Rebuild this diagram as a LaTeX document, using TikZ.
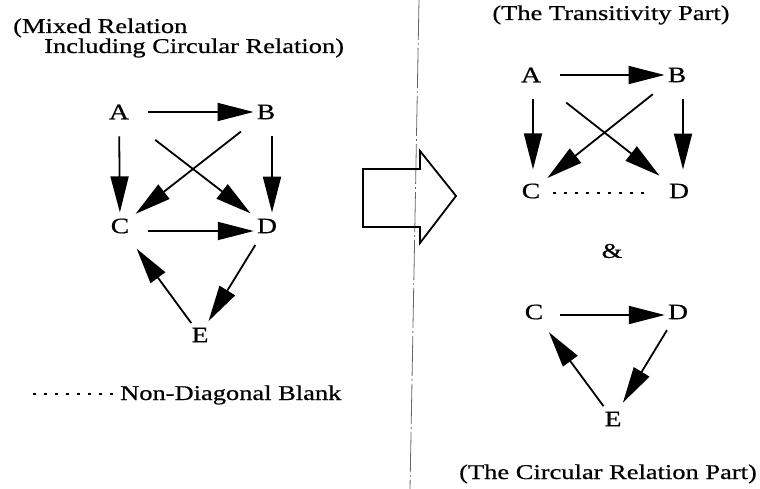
\documentclass[tikz,border=0pt]{standalone}
\usepackage{fontspec}
\setmainfont{Liberation Serif}[FakeStretch=1.26, FakeBold=0.6]
\usetikzlibrary{arrows.meta,positioning}

\begin{document}
\begin{tikzpicture}[
            x=1pt, y=-1pt,
            font=\fontsize{21}{23}\selectfont,
            letter/.style={inner sep=3pt, font=\fontsize{22}{24}\selectfont},
            label/.style={inner sep=0pt},
            rel/.style={
                    -{Triangle[length=36pt,width=18pt]},
                    line width=1.8pt,
                    shorten <=14pt
                },
            blank/.style={line width=2pt, dash pattern=on 3pt off 8pt},
        ]
        \useasboundingbox (0,0) rectangle (760,489);

        % Titles
        \node[label, anchor=base west] (mixA) at (13,33) {(Mixed Relation};
        \node[label, anchor=base west] (mixB) at (44,53) {Including Circular Relation)};
        \node[label, anchor=base] (trans) at (611,20) {(The Transitivity Part)};
        \node[label, anchor=base] (circ) at (608,479) {(The Circular Relation Part)};

        % Mixed relation
        \node[letter] (lA) at (119,112) {A};
        \node[letter] (lB) at (266,112) {B};
        \node[letter] (lC) at (120,226) {C};
        \node[letter] (lD) at (267,226) {D};
        \node[letter] (lE) at (200,335) {E};

        \draw[rel, shorten <=16pt] (lA) -- (lB);
        \draw[rel, shorten >=3pt] (lA) -- (lC);
        \draw[rel, shorten >=3pt] (lB.south -| 272,0) -- (lD.north -| 272,0);
        \draw[rel, shorten <=29pt, shorten >=4pt] (lA) -- (lD);
        \draw[rel, shorten <=16pt, shorten >=4pt] (lB) -- (lC);
        \draw[rel, shorten <=16pt] ([yshift=-5pt]lC.east) -- ([yshift=-5pt]lD.west);
        \draw[rel, shorten <=10pt, shorten >=4pt] (lD) -- (lE);
        \draw[rel, shorten <=2pt, shorten >=15pt] (lE) -- (lC);

        % Legend
        \node[label, anchor=base west] (legend) at (120,400) {Non-Diagonal Blank};
        \coordinate (legstart) at (33,394);
        \draw[blank] (legstart) -- (legstart -| legend.west);

        % Divider and big arrow
        \draw[black!60, line width=0.8pt, dash pattern=on 40pt off 3pt on 2pt off 3pt]
        (419,0) -- (410,489);
        \draw[line width=1.8pt, line join=miter]
        (363,169) -- (420,169) -- (420,151) -- (456,196) -- (420,243)
        -- (420,227) -- (363,227) -- cycle;

        % Transitivity part
        \node[letter] (tA) at (531,75) {A};
        \node[letter] (tB) at (677,75) {B};
        \node[letter] (tC) at (531,191) {C};
        \node[letter] (tD) at (679,191) {D};

        \draw[rel, shorten <=16pt] (tA) -- (tB);
        \draw[rel, shorten >=11pt] (tA.south -| 533,0) -- (tC.north -| 533,0);
        \draw[rel, shorten >=11pt] (tB.south -| 683,0) -- (tD.north -| 683,0);
        \draw[rel, shorten <=28pt, shorten >=8pt] (tA) -- (tD);
        \draw[rel, shorten <=15pt, shorten >=5pt] (tB) -- (tC);
        \draw[blank, shorten <=10pt, shorten >=14pt] ([yshift=-2pt]tC.east) -- ([yshift=-2pt]tD.west);

        \node[label] (amp) at (612,251) {\&};

        % Circular relation part
        \node[letter] (cC) at (534,312) {C};
        \node[letter] (cD) at (678,312) {D};
        \node[letter] (cE) at (613,419) {E};

        \draw[rel, shorten >=0pt] ([yshift=-3pt]cC.east) -- ([yshift=-3pt]cD.west);
        \draw[rel, shorten <=9pt, shorten >=7pt] (cD) -- (cE);
        \draw[rel, shorten <=3pt, shorten >=12pt] (cE) -- (cC);

    \end{tikzpicture}
\end{document}
